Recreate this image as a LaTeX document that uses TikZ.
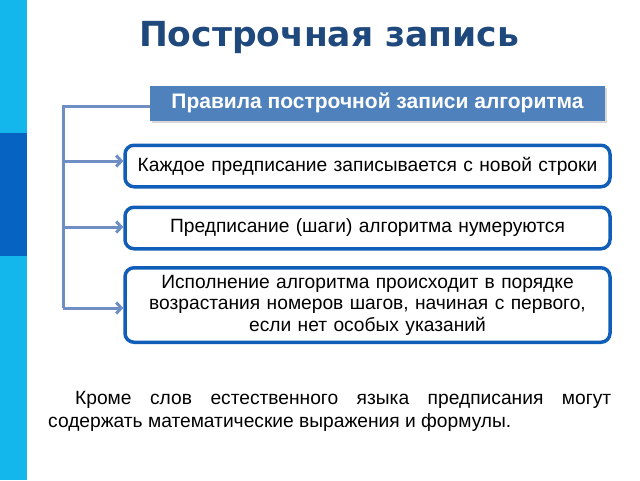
\documentclass[tikz,border=0pt]{standalone}
\usepackage{fontspec}
\setmainfont{Liberation Sans}
\newfontfamily\titlefont{DejaVu Sans}
\usetikzlibrary{shapes, arrows.meta, shadows}
\definecolor{titleblue}{RGB}{31,73,125}
\definecolor{headblue}{RGB}{79,129,189}
\definecolor{boxblue}{RGB}{16,94,184}
\definecolor{arrowblue}{RGB}{111,143,196}
\definecolor{stripblue}{RGB}{19,183,236}
\definecolor{stripdark}{RGB}{6,99,194}
\tikzstyle{hcell} = [rectangle, fill=headblue, text=white, font=\fontsize{21}{24}\selectfont\bfseries, minimum width=455pt, minimum height=35pt, inner sep=0pt, drop shadow={shadow xshift=2pt, shadow yshift=-2pt, fill=black!30}]
\tikzstyle{rcell} = [rectangle, rounded corners=9pt, draw=boxblue, line width=3.5pt, fill=white, text width=478pt, align=center, minimum width=485pt, minimum height=41.5pt, inner sep=3pt, font=\fontsize{19.2}{21.5}\selectfont]
\tikzstyle{line} = [draw=arrowblue, line width=3pt, -{Straight Barb[length=5pt,width=11pt]}]
\tikzstyle{trunk} = [draw=arrowblue, line width=3pt]

\begin{document}
\begin{tikzpicture}[x=1pt, y=-1pt]
    \useasboundingbox (0,0) rectangle (640,480);
    \fill[stripblue] (0,0) rectangle (27,480);
    \fill[stripdark] (0,133) rectangle (27,256);

    \node[font=\titlefont\bfseries\fontsize{34.5}{38}\selectfont, text=titleblue] (title) at (329,38) {Построчная запись};
    \node[hcell] (head) at (377.5,103) {Правила построчной записи алгоритма};
    \node[rcell] (first) at (367.5,166) {Каждое предписание записывается с новой строки};
    \node[rcell] (second) at (367.5,228) {Предписание (шаги) алгоритма нумеруются};
    \node[rcell, minimum height=74.5pt] (third) at (367.5,305) {Исполнение алгоритма происходит в порядке\\ возрастания номеров шагов, начиная с первого,\\ если нет особых указаний};

    \coordinate (top) at (63,106);
    \coordinate (a1) at (63,161);
    \coordinate (a2) at (63,227);
    \coordinate (a3) at (63,308);

    \path[trunk] (top -| head.west) -- (top) -- (a3);
    \path[line] (a1) -- (a1 -| first.west);
    \path[line] (a2) -- (a2 -| second.west);
    \path[line] (a3) -- (a3 -| third.west);

    \node[anchor=north west, text width=563pt, align=justify, inner sep=0pt, font=\fontsize{19.2}{23}\selectfont] (note) at (48,391) {\hspace*{27pt}Кроме слов естественного языка предписания могут содержать математические выражения и формулы.};
\end{tikzpicture}
\end{document}
